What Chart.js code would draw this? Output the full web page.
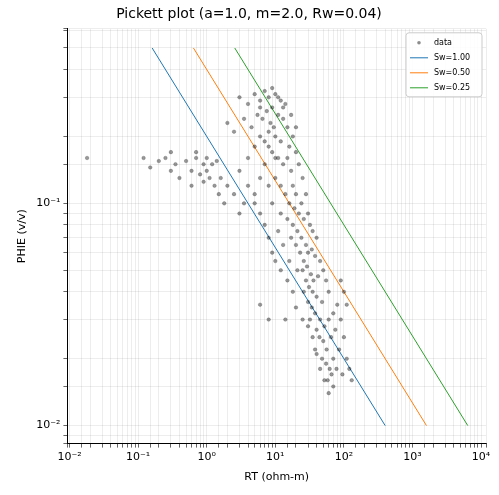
<!DOCTYPE html>
<html><head><meta charset="utf-8">
<script src="https://cdn.jsdelivr.net/npm/chart.js@4"></script>
<style>html,body{margin:0;background:#fff}#wrap{width:499px;height:495px}</style>
</head><body><div id="wrap"><canvas id="c"></canvas></div>
<script>
// scatter points
const rtValues = [3,4,5,6,7,8,9,10,12,14,5.5,6.5,7.5,8.5,9.5,11,13,15,4.5,3.5,2.5,2,6,7,8,10,12,16,18,20,5,9,11,13,15,17,22,25,7,4,3,6,8,10,12,14,18,20,24,28,30,16,19,22,26,32,35,40,15,18,21,24,28,30,34,38,45,50,20,23,26,29,33,36,42,55,60,25,28,31,35,40,48,30,34,38,45,52,60,70,80,40,44,50,56,65,75,90,48,55,62,70,85,100,110,58,66,78,95,120,130,70,40,35,30,25,20,18,15,12,10,9,8,7,6,5,5,4,3.5,3,2.5,2,1.8,1.5,6,8,14,16,13,11,17,21,26,32,38,45,52,60,100,90,110,12,9,10,8,6,9,11,13,17,20,
  0.018,0.12,0.15,0.2,0.25,0.3,0.35,0.4,0.5,0.6,0.7,0.8,0.9,1.0,1.1,1.2,1.4,0.6,0.9,1.3,1.6,0.3,0.7,1.0];
const phiValues = [0.30,0.28,0.31,0.29,0.32,0.30,0.27,0.31,0.29,0.28,0.25,0.24,0.26,0.23,0.22,0.25,0.24,0.22,0.22,0.24,0.21,0.23,0.20,0.19,0.21,0.20,0.19,0.18,0.20,0.17,0.18,0.17,0.16,0.15,0.16,0.14,0.15,0.13,0.15,0.16,0.14,0.13,0.12,0.13,0.12,0.11,0.12,0.11,0.10,0.11,0.09,0.10,0.095,0.09,0.085,0.08,0.075,0.07,0.085,0.08,0.075,0.07,0.065,0.06,0.062,0.058,0.055,0.05,0.065,0.06,0.055,0.052,0.048,0.045,0.047,0.045,0.04,0.05,0.045,0.042,0.04,0.038,0.036,0.036,0.034,0.032,0.03,0.028,0.03,0.032,0.035,0.027,0.025,0.024,0.022,0.025,0.027,0.03,0.02,0.019,0.018,0.02,0.022,0.025,0.02,0.016,0.017,0.018,0.017,0.018,0.016,0.015,0.021,0.025,0.028,0.03,0.034,0.04,0.045,0.05,0.055,0.06,0.07,0.08,0.09,0.1,0.11,0.12,0.1,0.09,0.11,0.12,0.10,0.11,0.035,0.03,0.03,0.055,0.065,0.075,0.07,0.05,0.04,0.03,0.022,0.018,0.016,0.014,0.04,0.045,0.035,0.09,0.1,0.16,0.18,0.27,0.33,0.3,0.27,0.25,0.22,
  0.16,0.16,0.145,0.155,0.16,0.14,0.15,0.13,0.155,0.14,0.16,0.135,0.15,0.14,0.13,0.15,0.155,0.12,0.125,0.12,0.13,0.17,0.17,0.16];

// Sw lines: endpoints at PHIE 0.5 and 0.01
const lineLabels = ["Sw=1.00", "Sw=0.50", "Sw=0.25"];
const lineColors = ["#1f77b4", "#ff7f0e", "#2ca02c"];
const linePhi = [0.5, 0.01];
const lineRt = [[0.16, 400], [0.64, 1600], [2.56, 6400]];

const sup = {"-":"⁻","0":"⁰","1":"¹","2":"²","3":"³","4":"⁴"};
const decade = (v) => {
  const e = Math.log10(v);
  if (Math.abs(e - Math.round(e)) > 1e-6) return "";
  return "10" + String(Math.round(e)).split("").map(c => sup[c]).join("");
};

const datasets = [{
  label: "data", type: "scatter",
  data: rtValues.map((x, i) => ({ x, y: phiValues[i] })),
  backgroundColor: "rgba(0,0,0,0.4)", borderColor: "rgba(0,0,0,0.4)",
  pointRadius: 1.8, borderWidth: 0.5
}];
lineLabels.forEach((lab, k) => datasets.push({
  label: lab, type: "line",
  data: linePhi.map((y, i) => ({ x: lineRt[k][i], y })),
  borderColor: lineColors[k], backgroundColor: lineColors[k],
  borderWidth: 1, pointRadius: 0
}));

// matplotlib-style legend box in the upper right of the plot area
const boxLegend = {
  id: "boxLegend",
  afterDraw(chart) {
    const { ctx, chartArea: a } = chart;
    const w = 76, h = 64, x0 = a.right - w - 4, y0 = a.top + 4;
    ctx.save();
    ctx.fillStyle = "rgba(255,255,255,0.85)";
    ctx.strokeStyle = "#ccc";
    ctx.lineWidth = 1;
    ctx.beginPath(); ctx.roundRect(x0, y0, w, h, 3); ctx.fill(); ctx.stroke();
    ctx.font = "8px 'DejaVu Sans'";
    ctx.textBaseline = "middle";
    chart.data.datasets.forEach((ds, i) => {
      const y = y0 + 10 + i * 15;
      if (i === 0) {
        ctx.fillStyle = "rgba(0,0,0,0.45)";
        ctx.beginPath(); ctx.arc(x0 + 13, y, 1.8, 0, Math.PI * 2); ctx.fill();
      } else {
        ctx.strokeStyle = ds.borderColor;
        ctx.beginPath(); ctx.moveTo(x0 + 4, y); ctx.lineTo(x0 + 22, y); ctx.stroke();
      }
      ctx.fillStyle = "#000";
      ctx.fillText(ds.label, x0 + 28, y);
    });
    ctx.restore();
  }
};

const grid = { color: "rgba(0,0,0,0.12)", lineWidth: 0.6, tickColor: "#000", tickLength: 4 };
const border = { display: true, color: "#000", width: 1 };
new Chart(document.getElementById("c"), {
  type: "scatter",
  data: { datasets },
  plugins: [boxLegend],
  options: {
    responsive: true, maintainAspectRatio: false, animation: false,
    layout: { padding: { left: 12, right: 13, top: 0, bottom: 7 } },
    plugins: {
      title: { display: true, text: "Pickett plot (a=1.0, m=2.0, Rw=0.04)", color: "#000",
        font: { family: "DejaVu Sans", size: 14, weight: "normal" }, padding: { top: 6, bottom: 6 } },
      legend: { display: false },
      tooltip: { enabled: false }
    },
    scales: {
      x: { type: "logarithmic", min: 0.0093, max: 11800, grid, border,
        title: { display: true, text: "RT (ohm-m)", color: "#000", font: { family: "DejaVu Sans", size: 11 } },
        ticks: { autoSkip: false, maxRotation: 0, color: "#000", font: { family: "DejaVu Sans", size: 11 }, callback: decade } },
      y: { type: "logarithmic", min: 0.0083, max: 0.61, grid, border,
        title: { display: true, text: "PHIE (v/v)", color: "#000", font: { family: "DejaVu Sans", size: 11 } },
        ticks: { autoSkip: false, color: "#000", font: { family: "DejaVu Sans", size: 11 }, callback: decade } }
    }
  }
});
</script></body></html>
